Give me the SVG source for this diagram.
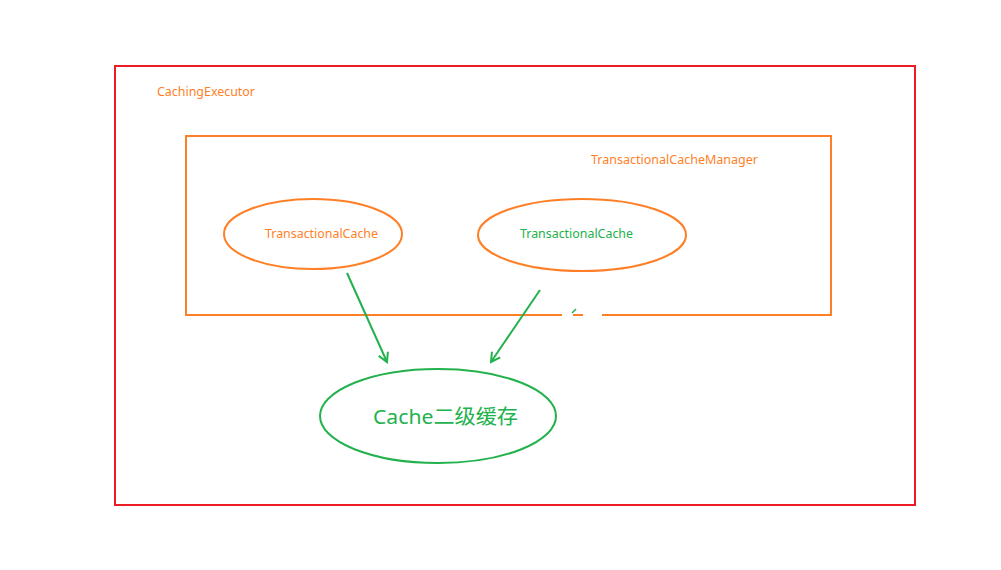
<svg xmlns="http://www.w3.org/2000/svg" width="1001" height="570" viewBox="0 0 1001 570">
<style>
.red{fill:none;stroke:#ED1C24;stroke-width:2}
.org{fill:none;stroke:#FF7F27;stroke-width:2}
.grn{fill:none;stroke:#22B14C;stroke-width:2}
.t{font-family:"Noto Sans","Noto Sans CJK SC",sans-serif;font-size:12px}
.to{fill:#FF7F27}
.tg{fill:#22B14C}
</style>
<defs>
<marker id="ah" markerWidth="12" markerHeight="12" refX="10" refY="6" orient="auto" markerUnits="userSpaceOnUse">
<path d="M1,1 L10,6 L1,11" fill="none" stroke="#22B14C" stroke-width="2"/>
</marker>
</defs>
<rect width="1001" height="570" fill="#fff"/>
<g id="cachingExecutor">
<rect class="red" x="115" y="66" width="800" height="439"/>
<text class="t to" x="157" y="96" textLength="98" lengthAdjust="spacingAndGlyphs">CachingExecutor</text>
</g>
<g id="transactionalCacheManager">
<path class="org" d="M562,315 L186,315 L186,136 L831,136 L831,315 L602,315 M573,315 L583,315"/>
<text class="t to" x="591" y="164" textLength="167" lengthAdjust="spacingAndGlyphs">TransactionalCacheManager</text>
</g>
<g id="tc1">
<ellipse class="org" cx="313" cy="234" rx="89" ry="35"/>
<text class="t to" x="265" y="238" textLength="113" lengthAdjust="spacingAndGlyphs">TransactionalCache</text>
</g>
<g id="tc2">
<ellipse class="org" cx="582" cy="235" rx="104" ry="36"/>
<text class="t tg" x="520" y="238" textLength="113" lengthAdjust="spacingAndGlyphs">TransactionalCache</text>
</g>
<g id="cache">
<ellipse class="grn" cx="438" cy="416" rx="118" ry="47"/>
<text class="tg" x="373" y="424" font-family="'Noto Sans','Noto Sans CJK SC',sans-serif" font-size="20" textLength="145" lengthAdjust="spacingAndGlyphs">Cache二级缓存</text>
</g>
<g id="connectors">
<line class="grn" x1="347" y1="273" x2="387" y2="362" marker-end="url(#ah)"/>
<line class="grn" x1="540" y1="290" x2="491" y2="362" marker-end="url(#ah)"/>
<line stroke="#22B14C" stroke-width="1.5" x1="572" y1="313" x2="576" y2="309"/>
</g>
</svg>
